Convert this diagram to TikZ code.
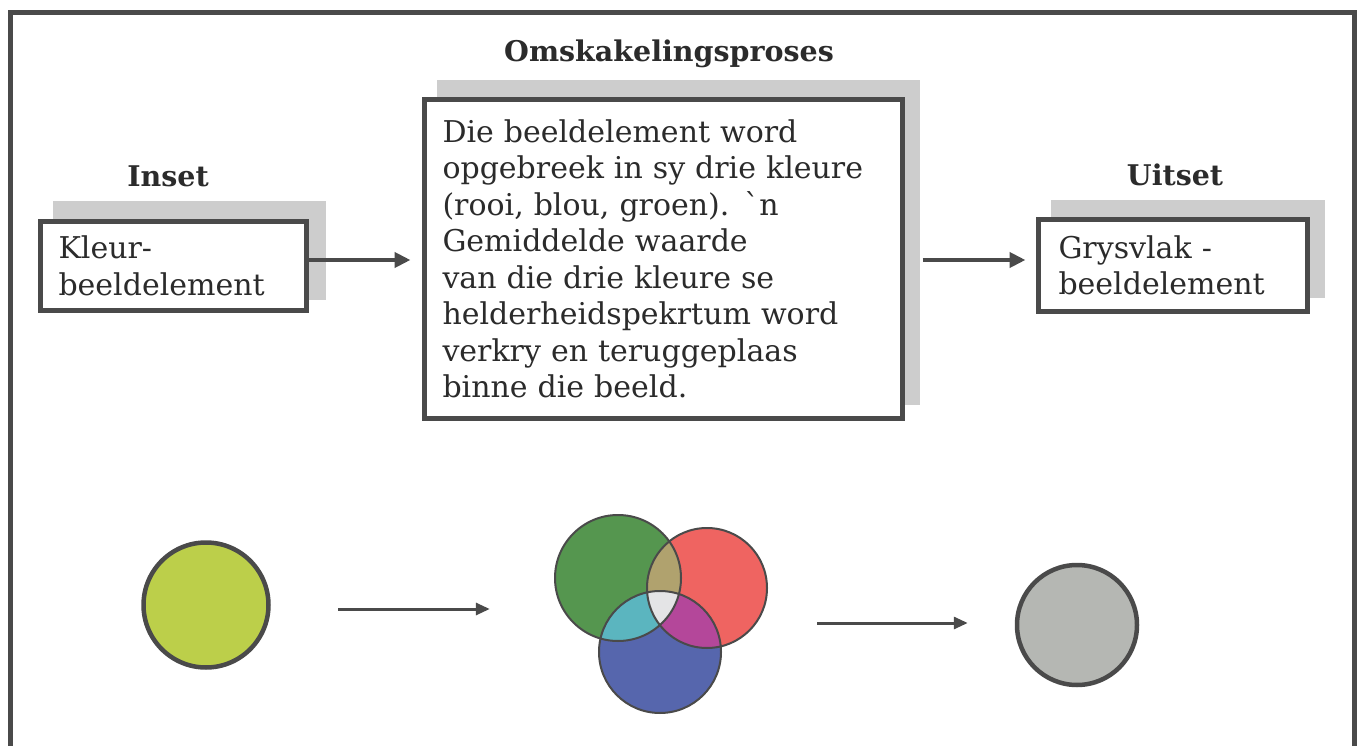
\documentclass[tikz,border=0pt]{standalone}
\usepackage{fontspec}
\setmainfont{DejaVu Serif}
\newfontfamily\plainserif{DejaVu Serif}[Ligatures=TeXOff]
\usetikzlibrary{arrows.meta,calc}

\definecolor{ink}{HTML}{4A4A4A}
\definecolor{txt}{HTML}{2B2B2B}
\definecolor{shade}{HTML}{CDCDCD}
\definecolor{lime}{HTML}{BCCF4A}
\definecolor{vgreen}{HTML}{55964F}
\definecolor{vred}{HTML}{EF6461}
\definecolor{vblue}{HTML}{5666AD}
\definecolor{vgr}{HTML}{B0A26E}
\definecolor{vgb}{HTML}{5BB5BF}
\definecolor{vrb}{HTML}{B4479A}
\definecolor{vall}{HTML}{E4E4E6}
\definecolor{grey}{HTML}{B5B7B3}

\tikzset{
  frame/.style={draw=ink, line width=5pt},
  shadowfill/.style={fill=shade},
  procbox/.style={draw=ink, line width=5pt, fill=white, rectangle,
    align=left, text=txt, inner ysep=0pt,
    font=\fontsize{30}{36.5}\selectfont},
  heading/.style={text=txt, font=\bfseries\fontsize{28.5}{34}\selectfont,
    inner sep=0pt, anchor=base},
  toparrow/.style={draw=ink, line width=4pt, -{Triangle[length=16pt,width=15pt]}},
  botarrow/.style={draw=ink, line width=3pt, -{Triangle[length=14pt,width=12pt]}},
  dot/.style={circle, draw=ink, line width=4.5pt, inner sep=0pt},
  venn/.style={draw=ink, line width=2pt},
}

\begin{document}
\begin{tikzpicture}[x=1pt, y=-1pt]
\useasboundingbox (0,0) rectangle (1361,746);
\fill[white] (0,0) rectangle (1361,746);

% outer frame (open at the bottom)
\draw[frame] (10,746) -- (10,13) -- (1354,13) -- (1354,746);

% headings
\node[heading] (hin)  at (168,187) {Inset};
\node[heading] (hmid) at (669,62)  {Omskakelingsproses};
\node[heading] (hout) at (1175,186) {Uitset};

% shadows behind the boxes
\fill[shadowfill] (53,201) rectangle (326,300);
\fill[shadowfill] (437,80) rectangle (920,405);
\fill[shadowfill] (1051,200) rectangle (1325,298);

% process boxes
\node[procbox, minimum width=266pt, minimum height=89pt,
      text width=230pt, inner xsep=18pt] (inbox) at (173.5,266)
  {Kleur-\\beeldelement};
\node[procbox, minimum width=478pt, minimum height=319pt,
      text width=442pt, inner xsep=18pt] (midbox) at (663.5,259)
  {Die beeldelement word\\
   opgebreek in sy drie kleure\\
   (rooi, blou, groen). {\plainserif\char96}n\\
   Gemiddelde waarde\\
   van die drie kleure se\\
   helderheidspekrtum word\\
   verkry en teruggeplaas\\
   binne die beeld.};
\node[procbox, minimum width=269pt, minimum height=92pt,
      text width=229pt, inner xsep=20pt] (outbox) at (1173,265.5)
  {Grysvlak -\\beeldelement};

% arrows between the boxes
\draw[toparrow, shorten >=11.5pt]
  ([yshift=6pt]inbox.east) -- ([yshift=6pt]inbox.east -| midbox.west);
\draw[toparrow, shorten <=17.5pt, shorten >=10.5pt]
  ([yshift=-1pt]midbox.east) -- ([yshift=-1pt]midbox.east -| outbox.west);

% input pixel
\node[dot, fill=lime, minimum size=125pt] (cin) at (206,605) {};

% colour channels
\def\rg{63pt}\def\rr{60pt}\def\rb{61pt}
\node[circle, fill=vgreen, inner sep=0pt, minimum size=126pt] (G) at (618,578) {};
\node[circle, fill=vred,   inner sep=0pt, minimum size=120pt] (R) at (707,588) {};
\node[circle, fill=vblue,  inner sep=0pt, minimum size=122pt] (B) at (660,652) {};
\begin{scope}
  \clip (G.center) circle[radius=\rg];
  \fill[vgr] (R.center) circle[radius=\rr];
  \fill[vgb] (B.center) circle[radius=\rb];
  \clip (R.center) circle[radius=\rr];
  \fill[vall] (B.center) circle[radius=\rb];
\end{scope}
\begin{scope}
  \clip (R.center) circle[radius=\rr];
  \clip (B.center) circle[radius=\rb];
  \fill[vrb] (B.center) circle[radius=\rb];
  \clip (G.center) circle[radius=\rg];
  \fill[vall] (B.center) circle[radius=\rb];
\end{scope}
\draw[venn] (G.center) circle[radius=\rg];
\draw[venn] (R.center) circle[radius=\rr];
\draw[venn] (B.center) circle[radius=\rb];

% output pixel
\node[dot, fill=grey, minimum size=120pt] (cout) at (1077,625) {};

% arrows between the pictures
\draw[botarrow, shorten <=67.5pt, shorten >=65pt]
  ([yshift=-4pt]cin.east) -- ([yshift=-4pt]cin.east -| G.west);
\draw[botarrow, shorten <=50pt, shorten >=47pt]
  ([yshift=2pt]cout.west -| R.east) -- ([yshift=2pt]cout.west);
\end{tikzpicture}
\end{document}
